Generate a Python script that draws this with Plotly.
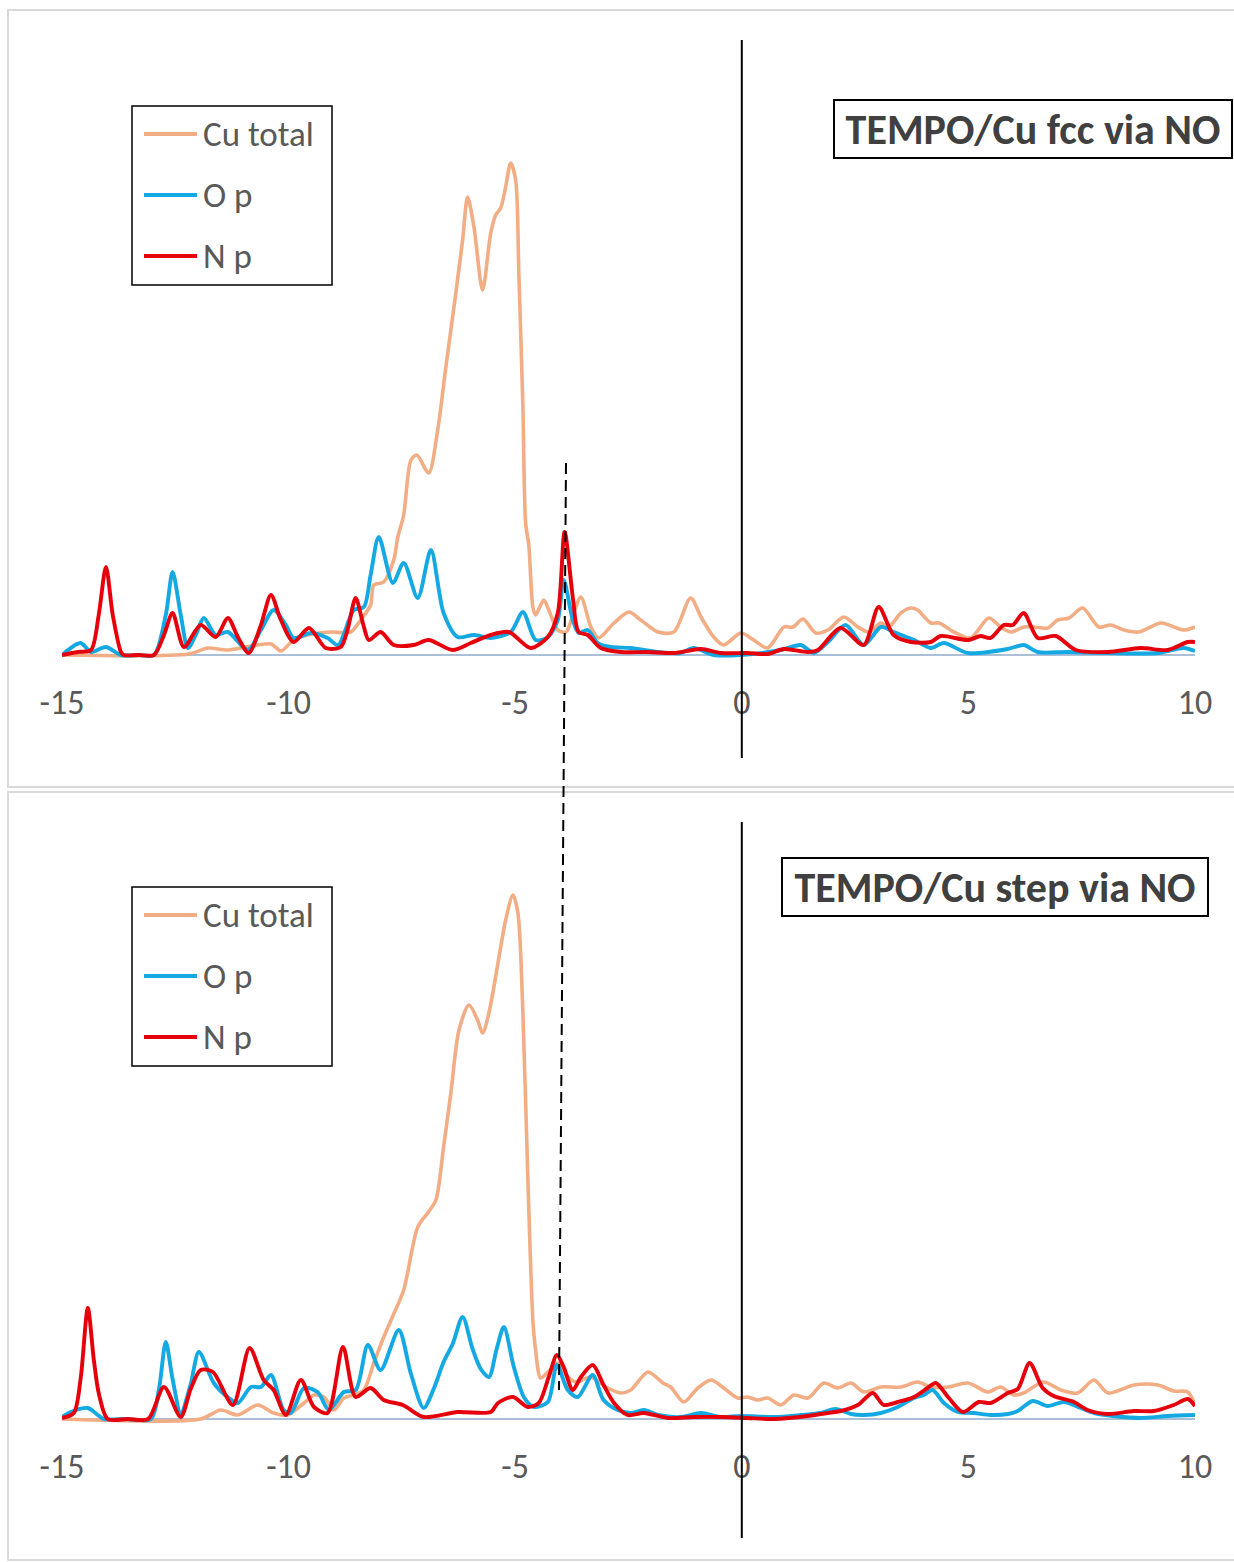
import plotly.graph_objects as go

# ---- Energy grid (eV, relative to Fermi level) and projected DOS ----
# TEMPO/Cu fcc via NO
fcc_cu_x = [-15.0, -12.2, -11.78, -11.34, -10.39, -10.17, -9.89, -9.58, -9.07, -8.63,
            -8.41, -8.19, -8.12, -7.9, -7.68, -7.59, -7.46, -7.3, -7.17, -6.91,
            -6.71, -6.53, -6.31, -6.16, -6.05, -5.91, -5.72, -5.54, -5.43, -5.32,
            -5.21, -5.1, -4.99, -4.92, -4.83, -4.77, -4.7, -4.61, -4.55, -4.37,
            -4.26, -4.06, -3.88, -3.71, -3.55, -3.33, -3.16, -2.82, -2.49, -2.23,
            -1.85, -1.5, -1.13, -0.9, -0.62, -0.4, -0.02, 0.26, 0.57, 0.93,
            1.13, 1.35, 1.63, 1.9, 2.25, 2.56, 2.8, 3.07, 3.24, 3.51,
            3.73, 3.88, 4.17, 4.35, 4.68, 5.05, 5.45, 5.71, 5.94, 6.22,
            6.44, 6.75, 6.97, 7.22, 7.52, 7.88, 8.14, 8.43, 8.76, 9.25,
            9.75, 10.0]
fcc_cu_y = [0.0, 0.01, 0.07, 0.05, 0.11, 0.04, 0.15, 0.2, 0.23, 0.23,
            0.35, 0.5, 0.7, 0.73, 0.95, 1.18, 1.4, 1.95, 2.0, 1.82,
            2.25, 2.88, 3.62, 4.15, 4.58, 4.28, 3.65, 4.22, 4.4, 4.47,
            4.68, 4.92, 4.75, 3.82, 2.48, 1.32, 1.1, 0.48, 0.4, 0.55,
            0.45, 0.25, 0.23, 0.42, 0.58, 0.28, 0.17, 0.32, 0.43, 0.35,
            0.23, 0.23, 0.57, 0.38, 0.18, 0.1, 0.22, 0.15, 0.07, 0.28,
            0.28, 0.36, 0.22, 0.25, 0.38, 0.28, 0.23, 0.32, 0.28, 0.42,
            0.47, 0.45, 0.32, 0.32, 0.23, 0.17, 0.37, 0.28, 0.23, 0.28,
            0.28, 0.27, 0.35, 0.37, 0.47, 0.28, 0.3, 0.25, 0.23, 0.32,
            0.25, 0.28]

fcc_o_x = [-15.0, -14.59, -14.36, -14.03, -13.7, -13.3, -12.97, -12.71, -12.56, -12.38, -12.22,
           -12.05, -11.87, -11.61, -11.34, -10.9, -10.61, -10.33, -10.06, -9.89, -9.51,
           -9.14, -8.91, -8.56, -8.34, -8.19, -8.01, -7.7, -7.46, -7.15, -6.86,
           -6.58, -6.27, -5.91, -5.54, -5.1, -4.83, -4.55, -4.28, -4.06, -3.93,
           -3.73, -3.6, -3.4, -3.18, -2.89, -2.45, -1.85, -1.35, -1.06, -0.62,
           -0.02, 0.86, 1.3, 1.59, 1.9, 2.29, 2.69, 3.07, 3.35, 3.8,
           4.17, 4.46, 4.99, 5.87, 6.22, 6.53, 7.19, 8.08, 9.18, 9.75, 10.0]
fcc_o_y = [0.0, 0.12, 0.03, 0.08, 0.0, 0.0, 0.0, 0.4, 0.83, 0.4, 0.07,
           0.2, 0.37, 0.2, 0.23, 0.05, 0.25, 0.45, 0.3, 0.17, 0.22,
           0.17, 0.1, 0.45, 0.48, 0.8, 1.18, 0.72, 0.92, 0.57, 1.05,
           0.42, 0.18, 0.2, 0.17, 0.23, 0.43, 0.15, 0.18, 0.35, 0.75,
           0.35, 0.22, 0.25, 0.12, 0.08, 0.07, 0.03, 0.02, 0.07, 0.0,
           0.0, 0.05, 0.1, 0.02, 0.13, 0.3, 0.1, 0.28, 0.23, 0.15,
           0.07, 0.12, 0.02, 0.06, 0.1, 0.03, 0.03, 0.02, 0.02, 0.07, 0.04]

fcc_n_x = [-15.0, -14.65, -14.36, -14.19, -14.03, -13.88, -13.7, -13.64, -13.3,
           -12.97, -12.75, -12.56, -12.31, -11.94, -11.61, -11.34, -11.12,
           -10.88, -10.61, -10.39, -10.17, -9.89, -9.55, -9.18, -8.85,
           -8.7, -8.52, -8.35, -8.23, -7.97, -7.68, -7.24, -6.91,
           -6.38, -5.98, -5.54, -5.14, -4.66, -4.28, -4.06, -3.91,
           -3.73, -3.6, -3.4, -3.11, -2.67, -2.07, -1.5, -0.9,
           -0.46, 0.13, 0.57, 0.93, 1.46, 1.68, 2.18, 2.69,
           3.02, 3.35, 3.73, 4.17, 4.39, 4.99, 5.27, 5.49,
           5.78, 5.98, 6.22, 6.53, 6.93, 7.37, 8.08, 8.8,
           9.4, 9.84, 10.0]
fcc_n_y = [0.0, 0.03, 0.05, 0.4, 0.88, 0.4, 0.03, 0.0, 0.0,
           0.0, 0.2, 0.42, 0.08, 0.3, 0.18, 0.37, 0.18,
           0.02, 0.3, 0.6, 0.35, 0.13, 0.27, 0.07, 0.08,
           0.25, 0.57, 0.3, 0.15, 0.23, 0.1, 0.1, 0.15,
           0.05, 0.12, 0.2, 0.23, 0.07, 0.18, 0.42, 1.23,
           0.58, 0.23, 0.2, 0.07, 0.03, 0.03, 0.02, 0.06,
           0.02, 0.02, 0.01, 0.06, 0.03, 0.05, 0.27, 0.1,
           0.48, 0.2, 0.13, 0.13, 0.19, 0.15, 0.19, 0.17,
           0.3, 0.3, 0.42, 0.17, 0.19, 0.05, 0.03, 0.07,
           0.05, 0.13, 0.13]

# TEMPO/Cu step via NO
step_cu_x = [-15.0, -11.94, -11.5, -11.12, -10.68, -10.33, -10.02, -9.66, -9.44, -9.22,
             -9.0, -8.78, -8.56, -8.34, -8.12, -7.9, -7.68, -7.46, -7.15, -6.93,
             -6.75, -6.58, -6.42, -6.24, -6.02, -5.83, -5.72, -5.58, -5.38, -5.21,
             -5.05, -4.94, -4.83, -4.72, -4.61, -4.55, -4.44, -4.28, -4.06, -3.88,
             -3.66, -3.33, -3.0, -2.67, -2.45, -2.07, -1.74, -1.57, -1.28, -0.97,
             -0.68, -0.4, -0.09, 0.13, 0.35, 0.57, 0.86, 1.15, 1.46, 1.81,
             2.12, 2.41, 2.69, 3.07, 3.51, 3.88, 4.17, 4.55, 4.99, 5.43,
             5.71, 6.0, 6.22, 6.66, 7.04, 7.41, 7.77, 8.08, 8.65, 9.18,
             9.53, 9.84, 10.0]
step_cu_y = [0.0, 0.0, 0.09, 0.04, 0.14, 0.06, 0.04, 0.16, 0.24, 0.22,
             0.09, 0.21, 0.24, 0.29, 0.56, 0.82, 1.05, 1.29, 1.92, 2.06,
             2.19, 2.72, 3.26, 3.89, 4.14, 3.99, 3.86, 4.06, 4.56, 4.99,
             5.24, 5.06, 4.06, 2.39, 0.99, 0.69, 0.41, 0.47, 0.56, 0.44,
             0.37, 0.42, 0.32, 0.26, 0.29, 0.47, 0.36, 0.32, 0.17, 0.31,
             0.39, 0.31, 0.21, 0.22, 0.19, 0.21, 0.14, 0.24, 0.21, 0.36,
             0.31, 0.36, 0.27, 0.32, 0.32, 0.37, 0.32, 0.32, 0.36, 0.27,
             0.32, 0.24, 0.26, 0.37, 0.29, 0.26, 0.39, 0.26, 0.34, 0.34,
             0.28, 0.27, 0.14]

step_o_x = [-15.0, -14.81, -14.43, -14.21, -14.08, -13.6, -13.04, -12.86, -12.71, -12.56, -12.38,
            -12.16, -11.98, -11.65, -11.32, -11.12, -10.83, -10.61, -10.39, -10.11, -9.95,
            -9.66, -9.36, -9.11, -8.78, -8.52, -8.25, -7.97, -7.57, -7.3, -7.02,
            -6.8, -6.58, -6.38, -6.16, -5.94, -5.76, -5.58, -5.41, -5.25, -5.03,
            -4.81, -4.59, -4.28, -4.08, -3.84, -3.62, -3.29, -3.05, -2.74, -2.45,
            -2.16, -1.85, -1.35, -0.9, -0.46, -0.02, 0.71, 1.3, 1.74, 2.07,
            2.41, 2.69, 3.07, 3.44, 3.8, 4.02, 4.21, 4.46, 4.77, 5.12,
            5.49, 5.87, 6.09, 6.42, 6.75, 7.11, 7.48, 7.77, 8.21, 8.8,
            9.4, 10.0]
step_o_y = [0.02, 0.07, 0.11, 0.04, 0.0, 0.0, 0.0, 0.3, 0.77, 0.4, 0.06,
            0.35, 0.67, 0.36, 0.21, 0.16, 0.32, 0.32, 0.44, 0.09, 0.06,
            0.31, 0.27, 0.09, 0.27, 0.29, 0.74, 0.49, 0.89, 0.45, 0.11,
            0.3, 0.57, 0.75, 1.02, 0.7, 0.5, 0.42, 0.7, 0.92, 0.52,
            0.22, 0.12, 0.17, 0.54, 0.29, 0.22, 0.44, 0.19, 0.09, 0.06,
            0.09, 0.04, 0.02, 0.06, 0.02, 0.03, 0.02, 0.04, 0.06, 0.1,
            0.05, 0.04, 0.06, 0.12, 0.21, 0.24, 0.29, 0.16, 0.07, 0.06,
            0.04, 0.05, 0.08, 0.18, 0.13, 0.17, 0.11, 0.06, 0.03, 0.01,
            0.03, 0.04]

step_n_x = [-15.0, -14.74, -14.59, -14.43, -14.3, -14.19, -13.99, -13.55, -13.1, -12.75, -12.38,
            -12.16, -11.94, -11.67, -11.23, -10.86, -10.55, -10.33, -10.06, -9.73, -9.44,
            -9.14, -8.8, -8.52, -8.19, -7.9, -7.48, -7.02, -6.27, -5.54, -5.38,
            -5.05, -4.72, -4.48, -4.26, -4.08, -3.93, -3.73, -3.55, -3.29, -3.05,
            -2.82, -2.52, -2.16, -1.63, -1.06, -0.46, 0.13, 0.71, 1.46, 1.74,
            2.18, 2.56, 2.89, 3.13, 3.44, 3.8, 4.1, 4.28, 4.57, 4.88,
            5.23, 5.49, 5.87, 6.09, 6.35, 6.64, 6.88, 7.33, 7.63, 8.08,
            8.65, 9.09, 9.53, 9.84, 10.0]
step_n_y = [0.01, 0.06, 0.4, 1.11, 0.6, 0.26, 0.0, 0.0, 0.0, 0.32, 0.02,
            0.3, 0.49, 0.47, 0.14, 0.71, 0.39, 0.29, 0.04, 0.39, 0.12,
            0.06, 0.72, 0.22, 0.31, 0.19, 0.14, 0.02, 0.07, 0.07, 0.16,
            0.22, 0.12, 0.16, 0.42, 0.64, 0.52, 0.29, 0.42, 0.54, 0.34,
            0.16, 0.04, 0.06, 0.01, 0.02, 0.02, 0.01, 0.0, 0.03, 0.05,
            0.08, 0.14, 0.26, 0.14, 0.17, 0.22, 0.31, 0.36, 0.21, 0.07,
            0.17, 0.16, 0.26, 0.3, 0.56, 0.31, 0.23, 0.17, 0.09, 0.05,
            0.08, 0.08, 0.14, 0.2, 0.13]

series_names = ["Cu total", "O p", "N p"]
panel_titles = ["TEMPO/Cu fcc via NO", "TEMPO/Cu step via NO"]
tick_vals = [-15, -10, -5, 0, 5, 10]
tick_text = ["-15", "-10", "-5", "0", "5", "10"]

# ---- Styling ----
W, H = 1234, 1562
COLORS = ["#F2AD84", "#14A9E2", "#E5000C"]
WIDTHS = [3.6, 3.9, 3.9]
FONT = "Carlito, Calibri, Lato, sans-serif"
TEXT_GRAY = "#595959"


def px(x):
    return x / W


def py(y):
    return 1 - y / H


fig = go.Figure()

panels = [
    dict(data=[(fcc_cu_x, fcc_cu_y), (fcc_o_x, fcc_o_y), (fcc_n_x, fcc_n_y)],
         xa="x", ya="y", ydom=[py(661), py(40)], ymax=6.15,
         frame=(8, 10, 1260, 787), vline=(40, 758),
         legend_top=106, title_box=(834, 100, 1232, 158)),
    dict(data=[(step_cu_x, step_cu_y), (step_o_x, step_o_y), (step_n_x, step_n_y)],
         xa="x2", ya="y2", ydom=[py(1425), py(822)], ymax=5.97,
         frame=(8, 792, 1260, 1560), vline=(822, 1538),
         legend_top=887, title_box=(782, 858, 1208, 916)),
]

shapes = []
annotations = []

for i, p in enumerate(panels):
    for k, (xs, ys) in enumerate(p["data"]):
        fig.add_trace(go.Scatter(
            x=xs, y=ys, mode="lines", name=series_names[k],
            line=dict(color=COLORS[k], width=WIDTHS[k], shape="spline", smoothing=0.8),
            xaxis=p["xa"], yaxis=p["ya"], showlegend=False,
            hoverinfo="x+y+name",
        ))

    # panel frame
    fx0, fy0, fx1, fy1 = p["frame"]
    shapes.append(dict(type="rect", xref="paper", yref="paper",
                       x0=px(fx0), x1=px(fx1), y0=py(fy1), y1=py(fy0),
                       line=dict(color="#D9D9D9", width=2), layer="below"))

    # energy axis baseline
    shapes.append(dict(type="line", xref=p["xa"], yref=p["ya"],
                       x0=-15, x1=10, y0=0, y1=0,
                       line=dict(color="#8FAACB", width=1.5), layer="below"))

    # Fermi level marker
    vy0, vy1 = p["vline"]
    shapes.append(dict(type="line", xref=p["xa"], yref="paper",
                       x0=0, x1=0, y0=py(vy1), y1=py(vy0),
                       line=dict(color="black", width=2)))

    # legend box with line samples and labels
    lt = p["legend_top"]
    shapes.append(dict(type="rect", xref="paper", yref="paper",
                       x0=px(132), x1=px(332), y0=py(lt + 179), y1=py(lt),
                       line=dict(color="black", width=1.5), fillcolor="white"))
    for k, name in enumerate(series_names):
        ry = lt + 28 + 61 * k
        shapes.append(dict(type="line", xref="paper", yref="paper",
                           x0=px(144), x1=px(197), y0=py(ry), y1=py(ry),
                           line=dict(color=COLORS[k], width=3.8)))
        annotations.append(dict(xref="paper", yref="paper", x=px(201), y=py(ry),
                                xanchor="left", yanchor="middle", showarrow=False,
                                text=name, font=dict(family=FONT, size=35, color=TEXT_GRAY)))

    # panel title in a framed box
    bx0, by0, bx1, by1 = p["title_box"]
    annotations.append(dict(xref="paper", yref="paper",
                            x=px((bx0 + bx1) / 2), y=py((by0 + by1) / 2),
                            xanchor="center", yanchor="middle", showarrow=False,
                            text="<b>%s</b>" % panel_titles[i],
                            width=bx1 - bx0 - 2, height=by1 - by0 - 2,
                            bordercolor="black", borderwidth=2, borderpad=0,
                            bgcolor="white",
                            font=dict(family=FONT, size=42, color="#404040")))

# dashed guide across both panels
shapes.append(dict(type="line", xref="paper", yref="paper",
                   x0=px(566), y0=py(463), x1=px(559), y1=py(1390),
                   line=dict(color="black", width=2, dash="11px,6px")))

xdom = [px(62), px(1195)]
axis_common = dict(range=[-15, 10], domain=xdom, showgrid=False, zeroline=False,
                   showline=False, ticks="", tickvals=tick_vals, ticktext=tick_text,
                   ticklabelstandoff=18, automargin=False,
                   tickfont=dict(family=FONT, size=34, color=TEXT_GRAY))
yaxis_common = dict(visible=False, showgrid=False, zeroline=False, fixedrange=True,
                    automargin=False)

fig.update_layout(
    template="none",
    width=W, height=H, autosize=False,
    margin=dict(l=0, r=0, t=0, b=0, pad=0),
    paper_bgcolor="white", plot_bgcolor="rgba(0,0,0,0)",
    showlegend=False,
    xaxis=dict(anchor="y", **axis_common),
    yaxis=dict(anchor="x", domain=panels[0]["ydom"], range=[-0.06, panels[0]["ymax"]], **yaxis_common),
    xaxis2=dict(anchor="y2", **axis_common),
    yaxis2=dict(anchor="x2", domain=panels[1]["ydom"], range=[-0.06, panels[1]["ymax"]], **yaxis_common),
    shapes=shapes,
    annotations=annotations,
)

fig.write_html("out.html")
